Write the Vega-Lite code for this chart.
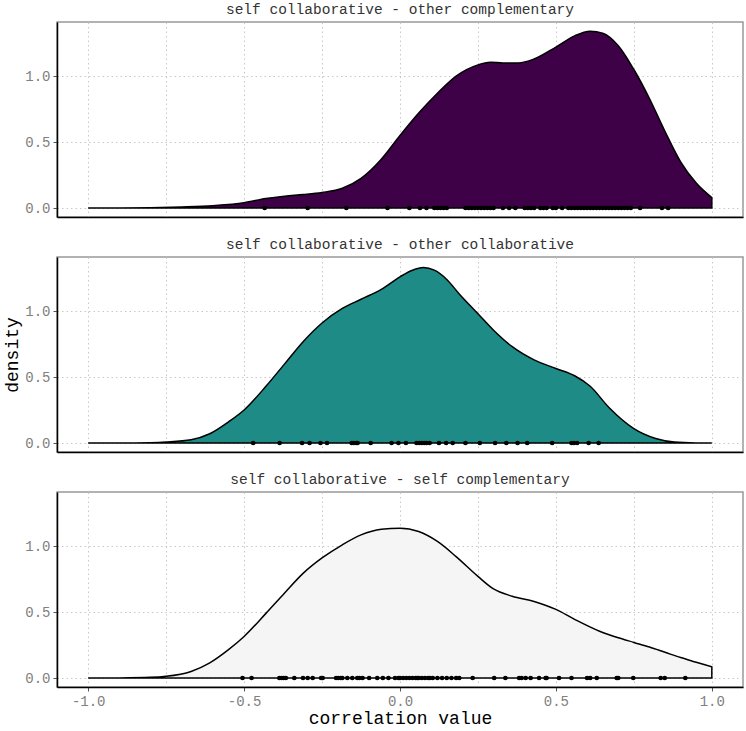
{
  "$schema": "https://vega.github.io/schema/vega-lite/v6.json",
  "background": "white",
  "padding": {"left": 3, "right": 2, "top": 0, "bottom": 0},
  "config": {
    "font": "Liberation Mono",
    "view": {"stroke": "#999999", "strokeWidth": 1.5},
    "concat": {"spacing": 17},
    "title": {"font": "Liberation Mono", "fontSize": 14.5, "fontWeight": "normal", "color": "#333333", "offset": 5, "anchor": "middle"},
    "axis": {
      "labelFont": "Liberation Mono", "labelFontSize": 14, "labelColor": "#808080",
      "titleFont": "Liberation Mono", "titleFontSize": 18, "titleFontWeight": "normal", "titleColor": "#000000",
      "gridColor": "#c8c8c8", "gridDash": [1.5, 3], "gridWidth": 1,
      "domainColor": "#000000", "domainWidth": 1.5,
      "tickColor": "#555555", "tickSize": 4, "labelPadding": 3, "labelFlush": false
    }
  },
  "datasets": {
    "dens": [
      {"panel": "p1", "x": -1.0, "d": 0}, {"panel": "p1", "x": -0.9, "d": 0}, {"panel": "p1", "x": -0.8, "d": 0.002},
      {"panel": "p1", "x": -0.7, "d": 0.008}, {"panel": "p1", "x": -0.6, "d": 0.018}, {"panel": "p1", "x": -0.5, "d": 0.04},
      {"panel": "p1", "x": -0.43, "d": 0.072}, {"panel": "p1", "x": -0.37, "d": 0.09}, {"panel": "p1", "x": -0.31, "d": 0.102},
      {"panel": "p1", "x": -0.25, "d": 0.118}, {"panel": "p1", "x": -0.185, "d": 0.15}, {"panel": "p1", "x": -0.125, "d": 0.225},
      {"panel": "p1", "x": -0.06, "d": 0.37}, {"panel": "p1", "x": 0, "d": 0.55}, {"panel": "p1", "x": 0.06, "d": 0.72},
      {"panel": "p1", "x": 0.12, "d": 0.87}, {"panel": "p1", "x": 0.18, "d": 1.0}, {"panel": "p1", "x": 0.25, "d": 1.085},
      {"panel": "p1", "x": 0.29, "d": 1.105}, {"panel": "p1", "x": 0.33, "d": 1.1}, {"panel": "p1", "x": 0.38, "d": 1.1},
      {"panel": "p1", "x": 0.43, "d": 1.13}, {"panel": "p1", "x": 0.5, "d": 1.22}, {"panel": "p1", "x": 0.56, "d": 1.305},
      {"panel": "p1", "x": 0.61, "d": 1.34}, {"panel": "p1", "x": 0.65, "d": 1.325}, {"panel": "p1", "x": 0.7, "d": 1.23},
      {"panel": "p1", "x": 0.75, "d": 1.05}, {"panel": "p1", "x": 0.8, "d": 0.83}, {"panel": "p1", "x": 0.85, "d": 0.58},
      {"panel": "p1", "x": 0.9, "d": 0.35}, {"panel": "p1", "x": 0.95, "d": 0.19}, {"panel": "p1", "x": 1.0, "d": 0.08},

      {"panel": "p2", "x": -1.0, "d": 0}, {"panel": "p2", "x": -0.9, "d": 0}, {"panel": "p2", "x": -0.8, "d": 0.003},
      {"panel": "p2", "x": -0.75, "d": 0.008}, {"panel": "p2", "x": -0.67, "d": 0.025}, {"panel": "p2", "x": -0.61, "d": 0.07},
      {"panel": "p2", "x": -0.55, "d": 0.16}, {"panel": "p2", "x": -0.5, "d": 0.25}, {"panel": "p2", "x": -0.43, "d": 0.43},
      {"panel": "p2", "x": -0.37, "d": 0.6}, {"panel": "p2", "x": -0.31, "d": 0.77}, {"panel": "p2", "x": -0.25, "d": 0.91},
      {"panel": "p2", "x": -0.185, "d": 1.02}, {"panel": "p2", "x": -0.125, "d": 1.09}, {"panel": "p2", "x": -0.06, "d": 1.165},
      {"panel": "p2", "x": 0, "d": 1.26}, {"panel": "p2", "x": 0.04, "d": 1.31}, {"panel": "p2", "x": 0.075, "d": 1.33},
      {"panel": "p2", "x": 0.11, "d": 1.31}, {"panel": "p2", "x": 0.15, "d": 1.24}, {"panel": "p2", "x": 0.19, "d": 1.13},
      {"panel": "p2", "x": 0.25, "d": 0.98}, {"panel": "p2", "x": 0.3, "d": 0.855}, {"panel": "p2", "x": 0.36, "d": 0.73},
      {"panel": "p2", "x": 0.43, "d": 0.63}, {"panel": "p2", "x": 0.5, "d": 0.565}, {"panel": "p2", "x": 0.56, "d": 0.51},
      {"panel": "p2", "x": 0.61, "d": 0.43}, {"panel": "p2", "x": 0.67, "d": 0.27}, {"panel": "p2", "x": 0.75, "d": 0.11},
      {"panel": "p2", "x": 0.82, "d": 0.035}, {"panel": "p2", "x": 0.88, "d": 0.008}, {"panel": "p2", "x": 0.95, "d": 0.001},
      {"panel": "p2", "x": 1.0, "d": 0},

      {"panel": "p3", "x": -1.0, "d": 0}, {"panel": "p3", "x": -0.9, "d": 0.001}, {"panel": "p3", "x": -0.8, "d": 0.005},
      {"panel": "p3", "x": -0.75, "d": 0.013}, {"panel": "p3", "x": -0.67, "d": 0.05}, {"panel": "p3", "x": -0.61, "d": 0.115},
      {"panel": "p3", "x": -0.55, "d": 0.215}, {"panel": "p3", "x": -0.5, "d": 0.315}, {"panel": "p3", "x": -0.43, "d": 0.49},
      {"panel": "p3", "x": -0.37, "d": 0.645}, {"panel": "p3", "x": -0.31, "d": 0.795}, {"panel": "p3", "x": -0.25, "d": 0.91},
      {"panel": "p3", "x": -0.185, "d": 1.01}, {"panel": "p3", "x": -0.125, "d": 1.085}, {"panel": "p3", "x": -0.06, "d": 1.128},
      {"panel": "p3", "x": 0, "d": 1.136}, {"panel": "p3", "x": 0.06, "d": 1.11}, {"panel": "p3", "x": 0.12, "d": 1.035},
      {"panel": "p3", "x": 0.18, "d": 0.92}, {"panel": "p3", "x": 0.25, "d": 0.77}, {"panel": "p3", "x": 0.3, "d": 0.675},
      {"panel": "p3", "x": 0.36, "d": 0.62}, {"panel": "p3", "x": 0.43, "d": 0.58}, {"panel": "p3", "x": 0.5, "d": 0.52},
      {"panel": "p3", "x": 0.56, "d": 0.445}, {"panel": "p3", "x": 0.64, "d": 0.355}, {"panel": "p3", "x": 0.7, "d": 0.305},
      {"panel": "p3", "x": 0.75, "d": 0.27}, {"panel": "p3", "x": 0.8, "d": 0.235}, {"panel": "p3", "x": 0.85, "d": 0.195},
      {"panel": "p3", "x": 0.9, "d": 0.155}, {"panel": "p3", "x": 0.95, "d": 0.12}, {"panel": "p3", "x": 1.0, "d": 0.085}
    ],
    "pts": [
      {"panel": "p1", "x": -0.434}, {"panel": "p1", "x": -0.296}, {"panel": "p1", "x": -0.172}, {"panel": "p1", "x": -0.04},
      {"panel": "p1", "x": 0.03}, {"panel": "p1", "x": 0.064}, {"panel": "p1", "x": 0.085}, {"panel": "p1", "x": 0.11},
      {"panel": "p1", "x": 0.12}, {"panel": "p1", "x": 0.13}, {"panel": "p1", "x": 0.14}, {"panel": "p1", "x": 0.15},
      {"panel": "p1", "x": 0.21}, {"panel": "p1", "x": 0.22}, {"panel": "p1", "x": 0.23}, {"panel": "p1", "x": 0.24},
      {"panel": "p1", "x": 0.25}, {"panel": "p1", "x": 0.26}, {"panel": "p1", "x": 0.27}, {"panel": "p1", "x": 0.28},
      {"panel": "p1", "x": 0.29}, {"panel": "p1", "x": 0.3}, {"panel": "p1", "x": 0.33}, {"panel": "p1", "x": 0.35},
      {"panel": "p1", "x": 0.37}, {"panel": "p1", "x": 0.4}, {"panel": "p1", "x": 0.41}, {"panel": "p1", "x": 0.42},
      {"panel": "p1", "x": 0.43}, {"panel": "p1", "x": 0.45}, {"panel": "p1", "x": 0.46}, {"panel": "p1", "x": 0.47},
      {"panel": "p1", "x": 0.49}, {"panel": "p1", "x": 0.5}, {"panel": "p1", "x": 0.52}, {"panel": "p1", "x": 0.54},
      {"panel": "p1", "x": 0.55}, {"panel": "p1", "x": 0.56}, {"panel": "p1", "x": 0.57}, {"panel": "p1", "x": 0.58},
      {"panel": "p1", "x": 0.59}, {"panel": "p1", "x": 0.6}, {"panel": "p1", "x": 0.61}, {"panel": "p1", "x": 0.62},
      {"panel": "p1", "x": 0.63}, {"panel": "p1", "x": 0.64}, {"panel": "p1", "x": 0.65}, {"panel": "p1", "x": 0.66},
      {"panel": "p1", "x": 0.67}, {"panel": "p1", "x": 0.68}, {"panel": "p1", "x": 0.69}, {"panel": "p1", "x": 0.7},
      {"panel": "p1", "x": 0.71}, {"panel": "p1", "x": 0.72}, {"panel": "p1", "x": 0.73}, {"panel": "p1", "x": 0.74},
      {"panel": "p1", "x": 0.77}, {"panel": "p1", "x": 0.84}, {"panel": "p1", "x": 0.86},

      {"panel": "p2", "x": -0.471}, {"panel": "p2", "x": -0.386}, {"panel": "p2", "x": -0.314}, {"panel": "p2", "x": -0.29},
      {"panel": "p2", "x": -0.255}, {"panel": "p2", "x": -0.234}, {"panel": "p2", "x": -0.155}, {"panel": "p2", "x": -0.148},
      {"panel": "p2", "x": -0.14}, {"panel": "p2", "x": -0.136}, {"panel": "p2", "x": -0.094}, {"panel": "p2", "x": -0.027},
      {"panel": "p2", "x": -0.005}, {"panel": "p2", "x": 0.019}, {"panel": "p2", "x": 0.053}, {"panel": "p2", "x": 0.062},
      {"panel": "p2", "x": 0.07}, {"panel": "p2", "x": 0.078}, {"panel": "p2", "x": 0.085}, {"panel": "p2", "x": 0.095},
      {"panel": "p2", "x": 0.125}, {"panel": "p2", "x": 0.148}, {"panel": "p2", "x": 0.169}, {"panel": "p2", "x": 0.21},
      {"panel": "p2", "x": 0.256}, {"panel": "p2", "x": 0.305}, {"panel": "p2", "x": 0.341}, {"panel": "p2", "x": 0.377},
      {"panel": "p2", "x": 0.408}, {"panel": "p2", "x": 0.488}, {"panel": "p2", "x": 0.55}, {"panel": "p2", "x": 0.558},
      {"panel": "p2", "x": 0.568}, {"panel": "p2", "x": 0.605}, {"panel": "p2", "x": 0.637},

      {"panel": "p3", "x": -0.505}, {"panel": "p3", "x": -0.476}, {"panel": "p3", "x": -0.387}, {"panel": "p3", "x": -0.38},
      {"panel": "p3", "x": -0.373}, {"panel": "p3", "x": -0.366}, {"panel": "p3", "x": -0.339}, {"panel": "p3", "x": -0.311},
      {"panel": "p3", "x": -0.296}, {"panel": "p3", "x": -0.28}, {"panel": "p3", "x": -0.253}, {"panel": "p3", "x": -0.248},
      {"panel": "p3", "x": -0.205}, {"panel": "p3", "x": -0.198}, {"panel": "p3", "x": -0.19}, {"panel": "p3", "x": -0.185},
      {"panel": "p3", "x": -0.169}, {"panel": "p3", "x": -0.153}, {"panel": "p3", "x": -0.137}, {"panel": "p3", "x": -0.13},
      {"panel": "p3", "x": -0.12}, {"panel": "p3", "x": -0.099}, {"panel": "p3", "x": -0.073}, {"panel": "p3", "x": -0.055},
      {"panel": "p3", "x": -0.037}, {"panel": "p3", "x": -0.016}, {"panel": "p3", "x": -0.005}, {"panel": "p3", "x": 0.0},
      {"panel": "p3", "x": 0.01}, {"panel": "p3", "x": 0.02}, {"panel": "p3", "x": 0.03}, {"panel": "p3", "x": 0.04},
      {"panel": "p3", "x": 0.05}, {"panel": "p3", "x": 0.055}, {"panel": "p3", "x": 0.06}, {"panel": "p3", "x": 0.07},
      {"panel": "p3", "x": 0.08}, {"panel": "p3", "x": 0.09}, {"panel": "p3", "x": 0.096}, {"panel": "p3", "x": 0.105},
      {"panel": "p3", "x": 0.12}, {"panel": "p3", "x": 0.135}, {"panel": "p3", "x": 0.15}, {"panel": "p3", "x": 0.165},
      {"panel": "p3", "x": 0.18}, {"panel": "p3", "x": 0.19}, {"panel": "p3", "x": 0.233}, {"panel": "p3", "x": 0.302},
      {"panel": "p3", "x": 0.338}, {"panel": "p3", "x": 0.382}, {"panel": "p3", "x": 0.39}, {"panel": "p3", "x": 0.403},
      {"panel": "p3", "x": 0.419}, {"panel": "p3", "x": 0.446}, {"panel": "p3", "x": 0.467}, {"panel": "p3", "x": 0.47},
      {"panel": "p3", "x": 0.51}, {"panel": "p3", "x": 0.55}, {"panel": "p3", "x": 0.6}, {"panel": "p3", "x": 0.61},
      {"panel": "p3", "x": 0.631}, {"panel": "p3", "x": 0.695}, {"panel": "p3", "x": 0.7}, {"panel": "p3", "x": 0.748},
      {"panel": "p3", "x": 0.836}, {"panel": "p3", "x": 0.849}, {"panel": "p3", "x": 0.915}
    ]
  },
  "vconcat": [
    {
      "title": "self collaborative - other complementary",
      "width": 686, "height": 195,
      "layer": [
        {
          "data": {"name": "dens"},
          "transform": [{"filter": "datum.panel === 'p1'"}],
          "mark": {"type": "area", "fill": "#3e0046", "stroke": "#000000", "strokeWidth": 1.5, "interpolate": "monotone"},
          "encoding": {
            "x": {"field": "x", "type": "quantitative", "scale": {"domain": [-1.1, 1.1], "nice": false, "zero": false},
                  "axis": {"values": [-1, -0.75, -0.5, -0.25, 0, 0.25, 0.5, 0.75, 1], "labels": false, "ticks": false, "title": null}},
            "y": {"field": "d", "type": "quantitative", "scale": {"domain": [-0.068, 1.41], "nice": false, "zero": false},
                  "axis": {"values": [0, 0.25, 0.5, 0.75, 1, 1.25], "title": null,
                           "labelExpr": "datum.value % 0.5 === 0 ? format(datum.value, '.1f') : ''",
                           "tickOpacity": {"condition": {"test": "datum.value % 0.5 !== 0", "value": 0}, "value": 1}}}
          }
        },
        {
          "data": {"name": "pts"},
          "transform": [{"filter": "datum.panel === 'p1'"}],
          "mark": {"type": "point", "filled": true, "color": "#000000", "opacity": 1, "size": 22},
          "encoding": {
            "x": {"field": "x", "type": "quantitative"},
            "y": {"datum": 0, "type": "quantitative"}
          }
        }
      ]
    },
    {
      "title": "self collaborative - other collaborative",
      "width": 686, "height": 195,
      "layer": [
        {
          "data": {"name": "dens"},
          "transform": [{"filter": "datum.panel === 'p2'"}],
          "mark": {"type": "area", "fill": "#1f8b87", "stroke": "#000000", "strokeWidth": 1.5, "interpolate": "monotone"},
          "encoding": {
            "x": {"field": "x", "type": "quantitative", "scale": {"domain": [-1.1, 1.1], "nice": false, "zero": false},
                  "axis": {"values": [-1, -0.75, -0.5, -0.25, 0, 0.25, 0.5, 0.75, 1], "labels": false, "ticks": false, "title": null}},
            "y": {"field": "d", "type": "quantitative", "scale": {"domain": [-0.068, 1.41], "nice": false, "zero": false},
                  "axis": {"values": [0, 0.25, 0.5, 0.75, 1, 1.25], "title": "density", "titlePadding": 3,
                           "labelExpr": "datum.value % 0.5 === 0 ? format(datum.value, '.1f') : ''",
                           "tickOpacity": {"condition": {"test": "datum.value % 0.5 !== 0", "value": 0}, "value": 1}}}
          }
        },
        {
          "data": {"name": "pts"},
          "transform": [{"filter": "datum.panel === 'p2'"}],
          "mark": {"type": "point", "filled": true, "color": "#000000", "opacity": 1, "size": 22},
          "encoding": {
            "x": {"field": "x", "type": "quantitative"},
            "y": {"datum": 0, "type": "quantitative"}
          }
        }
      ]
    },
    {
      "title": "self collaborative - self complementary",
      "width": 686, "height": 195,
      "layer": [
        {
          "data": {"name": "dens"},
          "transform": [{"filter": "datum.panel === 'p3'"}],
          "mark": {"type": "area", "fill": "#f5f5f5", "stroke": "#000000", "strokeWidth": 1.5, "interpolate": "monotone"},
          "encoding": {
            "x": {"field": "x", "type": "quantitative", "scale": {"domain": [-1.1, 1.1], "nice": false, "zero": false},
                  "axis": {"values": [-1, -0.75, -0.5, -0.25, 0, 0.25, 0.5, 0.75, 1], "title": "correlation value", "titlePadding": 1,
                           "labelExpr": "datum.value % 0.5 === 0 ? (datum.value < 0 ? '-' : '') + format(abs(datum.value), '.1f') : ''",
                           "tickOpacity": {"condition": {"test": "datum.value % 0.5 !== 0", "value": 0}, "value": 1}}},
            "y": {"field": "d", "type": "quantitative", "scale": {"domain": [-0.068, 1.41], "nice": false, "zero": false},
                  "axis": {"values": [0, 0.25, 0.5, 0.75, 1, 1.25], "title": null,
                           "labelExpr": "datum.value % 0.5 === 0 ? format(datum.value, '.1f') : ''",
                           "tickOpacity": {"condition": {"test": "datum.value % 0.5 !== 0", "value": 0}, "value": 1}}}
          }
        },
        {
          "data": {"name": "pts"},
          "transform": [{"filter": "datum.panel === 'p3'"}],
          "mark": {"type": "point", "filled": true, "color": "#000000", "opacity": 1, "size": 22},
          "encoding": {
            "x": {"field": "x", "type": "quantitative"},
            "y": {"datum": 0, "type": "quantitative"}
          }
        }
      ]
    }
  ]
}
